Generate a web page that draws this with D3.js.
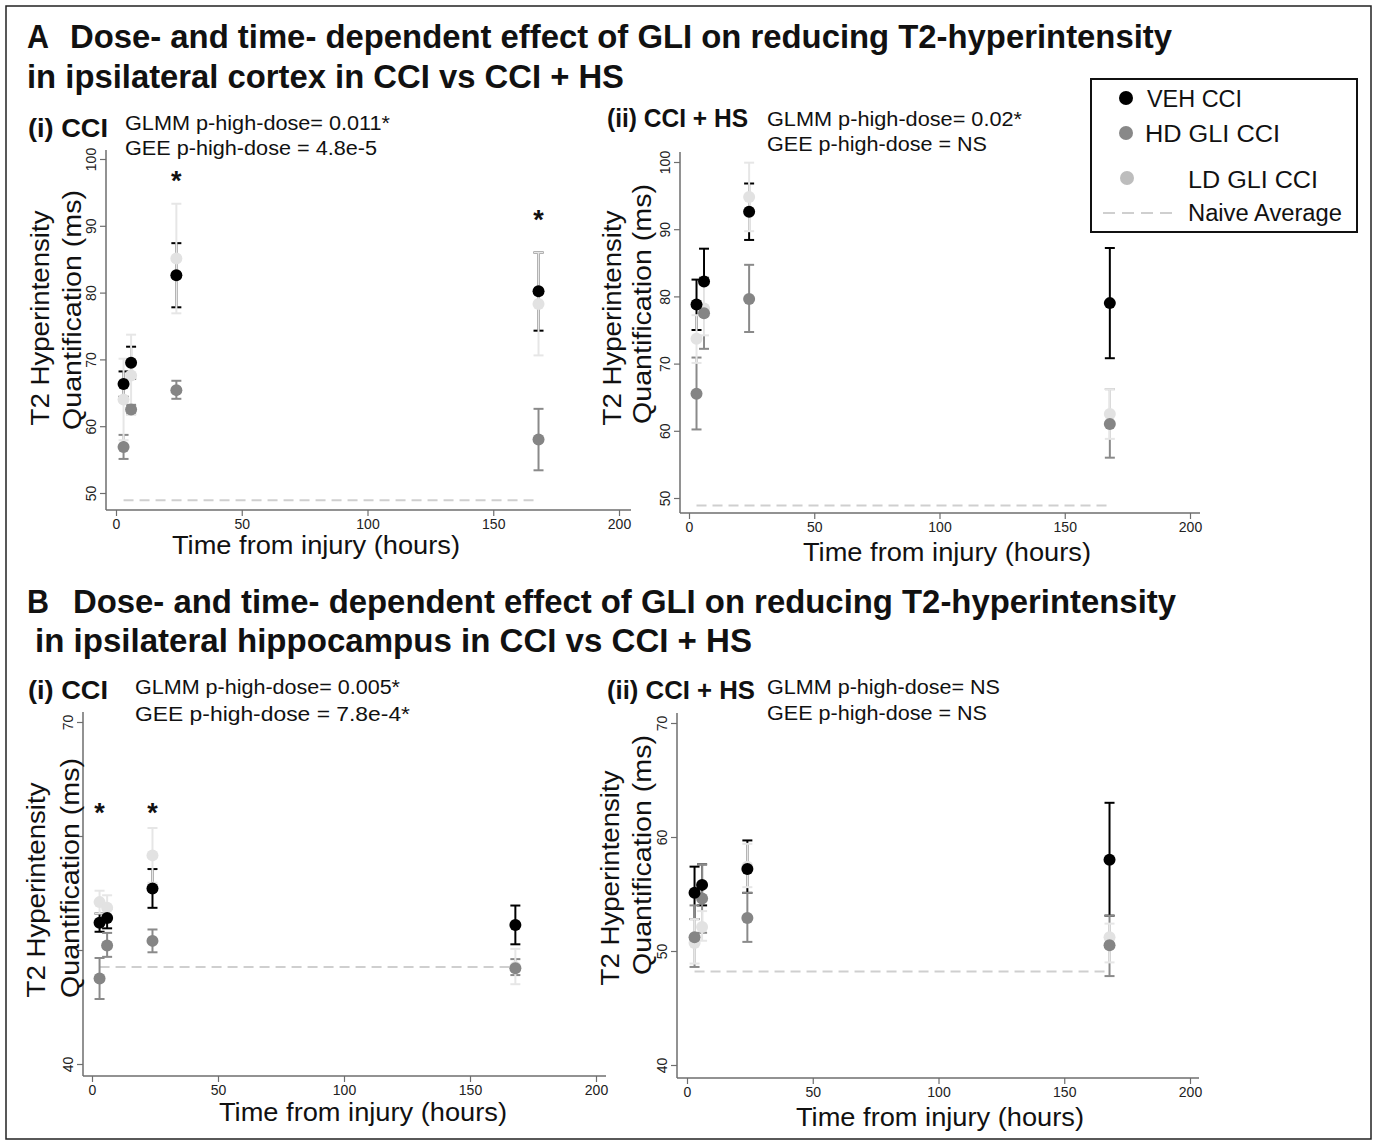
<!DOCTYPE html>
<html><head><meta charset="utf-8">
<script src="https://cdn.jsdelivr.net/npm/d3@7"></script>
<style>body{margin:0;background:#fff} svg{display:block}</style>
</head><body>
<svg id="chart" width="1377" height="1143"></svg>
<script>
// ---------------- DATA ----------------
const times = [3, 6, 24, 168];
const seriesNames = ["VEH CCI", "HD GLI CCI", "LD GLI CCI"];
const naiveLabel = "Naive Average";
const xTicks = [0, 50, 100, 150, 200];
const yTicksCortex = [50, 60, 70, 80, 90, 100];
const yTicksHippo = [40, 50, 60, 70];

// [mean, lower, upper] per time point (3, 6, 24, 168 h)
const cortexCCI_VEH = [[66.3, 64.4, 68.2], [69.5, 67.1, 71.9], [82.6, 77.8, 87.4], [80.2, 74.3, 86.0]];
const cortexCCI_HD  = [[56.9, 55.1, 58.7], [62.5, 61.8, 63.2], [65.4, 64.1, 66.8], [58.0, 53.4, 62.6]];
const cortexCCI_LD  = [[64.0, 57.9, 70.1], [67.6, 61.7, 73.7], [85.1, 76.9, 93.3], [78.3, 70.6, 86.0]];
const cortexCCI_naive = 48.9;
const cortexCCI_stars = [[24, 97.6], [168, 91.7]];

const cortexHS_VEH = [[78.8, 75.0, 82.5], [82.2, 77.3, 87.1], [92.6, 88.4, 96.8], [79.0, 70.8, 87.2]];
const cortexHS_HD  = [[65.5, 60.2, 70.9], [77.5, 72.2, 82.8], [79.6, 74.7, 84.7], [61.0, 56.0, 66.2]];
const cortexHS_LD  = [[73.7, 70.1, 77.2], [78.2, 74.2, 82.2], [94.8, 89.7, 99.9], [62.5, 58.8, 66.2]];
const cortexHS_naive = 48.9;
const cortexHS_stars = [];

const hippoCCI_VEH = [[52.4, 51.6, 53.2], [52.8, 51.9, 53.6], [55.4, 53.7, 57.1], [52.2, 50.5, 53.9]];
const hippoCCI_HD  = [[47.5, 45.7, 49.3], [50.4, 49.4, 51.5], [50.8, 49.8, 51.8], [48.4, 47.8, 49.2]];
const hippoCCI_LD  = [[54.2, 53.2, 55.2], [53.7, 52.6, 54.8], [58.3, 55.9, 60.7], [48.5, 47.0, 50.1]];
const hippoCCI_naive = 48.5;
const hippoCCI_stars = [[3, 62.5], [24, 62.5]];

const hippoHS_VEH = [[55.1, 52.8, 57.4], [55.8, 54.0, 57.6], [57.2, 55.1, 59.7], [58.0, 53.1, 63.0]];
const hippoHS_HD  = [[51.2, 48.6, 54.0], [54.6, 51.6, 57.6], [52.9, 50.8, 55.1], [50.5, 47.8, 53.1]];
const hippoHS_LD  = [[50.7, 48.9, 52.8], [52.1, 50.9, 53.5], [57.4, 55.6, 59.4], [51.2, 49.0, 52.4]];
const hippoHS_naive = 48.2;
const hippoHS_stars = [];

// ---------------- STYLE / LAYOUT ----------------
const FONT = "'Liberation Sans', Arial, Helvetica, sans-serif";
const markerColors = ["#000000", "#858585", "#e2e2e2"];
const barColors = ["#000000", "#8a8a8a", "#e6e6e6"];
const legendColors = ["#000000", "#888888", "#bdbdbd"];
const naiveColor = "#cfcfcf";

const svg = d3.select("#chart").style("font-family", FONT);

svg.append("rect").attr("x", 6).attr("y", 6).attr("width", 1365).attr("height", 1133)
  .attr("fill", "none").attr("stroke", "#222").attr("stroke-width", 1.5);

function txt(x, y, s, size, opts = {}) {
  const t = svg.append("text").attr("x", x).attr("y", y).text(s)
    .attr("font-size", size).attr("fill", opts.fill || "#111")
    .attr("font-weight", opts.bold ? "bold" : "normal");
  if (opts.len) t.attr("textLength", opts.len).attr("lengthAdjust", "spacingAndGlyphs");
  if (opts.anchor) t.attr("text-anchor", opts.anchor);
  return t;
}

// Headers
txt(27, 48, "A", 33, {bold: true, len: 22});
txt(70, 48, "Dose- and time- dependent effect of GLI on reducing T2-hyperintensity", 33, {bold: true, len: 1102});
txt(27, 88, "in ipsilateral cortex in CCI vs CCI + HS", 33, {bold: true, len: 597});
txt(27, 613, "B", 33, {bold: true, len: 22});
txt(73, 613, "Dose- and time- dependent effect of GLI on reducing T2-hyperintensity", 33, {bold: true, len: 1103});
txt(35, 652, "in ipsilateral hippocampus in CCI vs CCI + HS", 33, {bold: true, len: 717});

txt(28, 137, "(i) CCI", 25, {bold: true, len: 80});
txt(125, 130, "GLMM p-high-dose= 0.011*", 20, {len: 265});
txt(125, 155, "GEE p-high-dose = 4.8e-5", 20, {len: 252});
txt(607, 127, "(ii) CCI + HS", 25, {bold: true, len: 141});
txt(767, 126, "GLMM p-high-dose= 0.02*", 20, {len: 255});
txt(767, 151, "GEE p-high-dose = NS", 20, {len: 220});

txt(28, 699, "(i) CCI", 25, {bold: true, len: 80});
txt(135, 694, "GLMM p-high-dose= 0.005*", 20, {len: 265});
txt(135, 721, "GEE p-high-dose = 7.8e-4*", 20, {len: 275});
txt(607, 699, "(ii) CCI + HS", 25, {bold: true, len: 148});
txt(767, 694, "GLMM p-high-dose= NS", 20, {len: 233});
txt(767, 720, "GEE p-high-dose = NS", 20, {len: 220});

// Panels
const panels = [
  {series: [cortexCCI_VEH, cortexCCI_HD, cortexCCI_LD], naive: cortexCCI_naive, stars: cortexCCI_stars,
   yDomain: [50, 100], yTicks: yTicksCortex, hideLabels: [], xRange: [116, 619], yRange: [493, 159],
   axisX: 106, axisY: 510, axisTop: 150, axisRight: 631,
   xTitle: [316, 554], yl1: [40, 318], yl2: [72, 310]},
  {series: [cortexHS_VEH, cortexHS_HD, cortexHS_LD], naive: cortexHS_naive, stars: cortexHS_stars,
   yDomain: [50, 100], yTicks: yTicksCortex, hideLabels: [], xRange: [689, 1190], yRange: [498, 162],
   axisX: 680, axisY: 513, axisTop: 152, axisRight: 1200,
   xTitle: [947, 561], yl1: [612, 318], yl2: [642, 304]},
  {series: [hippoCCI_VEH, hippoCCI_HD, hippoCCI_LD], naive: hippoCCI_naive, stars: hippoCCI_stars,
   yDomain: [40, 70], yTicks: yTicksHippo, hideLabels: [50, 60], xRange: [92, 596], yRange: [1064, 722],
   axisX: 83, axisY: 1076, axisTop: 712, axisRight: 606,
   xTitle: [363, 1121], yl1: [36, 890], yl2: [70, 878]},
  {series: [hippoHS_VEH, hippoHS_HD, hippoHS_LD], naive: hippoHS_naive, stars: hippoHS_stars,
   yDomain: [40, 70], yTicks: yTicksHippo, hideLabels: [], xRange: [687, 1190], yRange: [1065, 723],
   axisX: 677, axisY: 1078, axisTop: 713, axisRight: 1199,
   xTitle: [940, 1126], yl1: [610, 878], yl2: [642, 855]}
];

const axisColor = "#6e6e6e";

panels.forEach(p => {
  const x = d3.scaleLinear().domain([0, 200]).range(p.xRange);
  const y = d3.scaleLinear().domain(p.yDomain).range(p.yRange);
  const g = svg.append("g");

  // axis lines
  g.append("line").attr("x1", p.axisX).attr("x2", p.axisX).attr("y1", p.axisTop).attr("y2", p.axisY)
    .attr("stroke", axisColor).attr("stroke-width", 1.5);
  g.append("line").attr("x1", p.axisX).attr("x2", p.axisRight).attr("y1", p.axisY).attr("y2", p.axisY)
    .attr("stroke", axisColor).attr("stroke-width", 1.5);

  // y axis
  const ya = g.append("g").attr("transform", `translate(${p.axisX},0)`)
    .call(d3.axisLeft(y).tickValues(p.yTicks).tickSize(6).tickSizeOuter(0)
      .tickFormat(d => p.hideLabels.includes(d) ? "" : d3.format("d")(d)));
  ya.select(".domain").remove();
  ya.selectAll(".tick line").attr("stroke", axisColor).attr("stroke-width", 1.2);
  ya.selectAll(".tick text").attr("transform", "rotate(-90)").attr("x", 0).attr("y", -10).attr("dy", 0)
    .attr("text-anchor", "middle").attr("font-size", 14).attr("font-family", FONT).attr("fill", "#222");

  // x axis
  const xa = g.append("g").attr("transform", `translate(0,${p.axisY})`)
    .call(d3.axisBottom(x).tickValues(xTicks).tickSize(6).tickSizeOuter(0));
  xa.select(".domain").remove();
  xa.selectAll(".tick line").attr("stroke", axisColor).attr("stroke-width", 1.2);
  xa.selectAll(".tick text").attr("y", 9).attr("dy", "0.71em").attr("font-size", 14)
    .attr("font-family", FONT).attr("fill", "#222");

  // axis titles
  g.append("text").attr("x", p.xTitle[0]).attr("y", p.xTitle[1]).attr("text-anchor", "middle")
    .attr("font-size", 25).attr("fill", "#111").attr("textLength", 288).attr("lengthAdjust", "spacingAndGlyphs")
    .text("Time from injury (hours)");
  g.append("text").attr("transform", `translate(${p.yl1[0]},${p.yl1[1]}) rotate(-90)`).attr("dy", "0.35em")
    .attr("text-anchor", "middle").attr("font-size", 25).attr("fill", "#111")
    .attr("textLength", 215).attr("lengthAdjust", "spacingAndGlyphs").text("T2 Hyperintensity");
  g.append("text").attr("transform", `translate(${p.yl2[0]},${p.yl2[1]}) rotate(-90)`).attr("dy", "0.35em")
    .attr("text-anchor", "middle").attr("font-size", 25).attr("fill", "#111")
    .attr("textLength", 240).attr("lengthAdjust", "spacingAndGlyphs").text("Quantification (ms)");

  // naive average
  g.append("line").attr("x1", x(times[0])).attr("x2", x(times[times.length - 1]))
    .attr("y1", y(p.naive)).attr("y2", y(p.naive))
    .attr("stroke", naiveColor).attr("stroke-width", 2).attr("stroke-dasharray", "10,6");

  // error bars: VEH, HD, then LD on top
  p.series.forEach((s, si) => {
    const eg = g.append("g").attr("stroke", barColors[si]).attr("stroke-width", 2).attr("fill", "none");
    s.forEach((v, ti) => {
      const cx = x(times[ti]);
      eg.append("line").attr("x1", cx).attr("x2", cx).attr("y1", y(v[1])).attr("y2", y(v[2]));
      eg.append("line").attr("x1", cx - 5).attr("x2", cx + 5).attr("y1", y(v[1])).attr("y2", y(v[1]));
      eg.append("line").attr("x1", cx - 5).attr("x2", cx + 5).attr("y1", y(v[2])).attr("y2", y(v[2]));
    });
  });

  // markers: LD, HD, VEH (black on top)
  [2, 1, 0].forEach(si => {
    g.append("g").selectAll("circle").data(p.series[si]).join("circle")
      .attr("cx", (d, i) => x(times[i])).attr("cy", d => y(d[0])).attr("r", 6)
      .attr("fill", markerColors[si]);
  });

  // significance stars
  g.append("g").selectAll("text").data(p.stars).join("text")
    .attr("x", d => x(d[0])).attr("y", d => y(d[1])).attr("dy", "0.55em")
    .attr("text-anchor", "middle").attr("font-size", 27).attr("font-weight", "bold").attr("fill", "#111")
    .text("*");
});

// Legend
const lg = svg.append("g");
lg.append("rect").attr("x", 1091).attr("y", 79).attr("width", 266).attr("height", 153)
  .attr("fill", "#fff").attr("stroke", "#111").attr("stroke-width", 2);
const legendItems = [
  {cx: 1126, cy: 98, tx: 1147, ty: 107, len: 95},
  {cx: 1126, cy: 133, tx: 1145, ty: 142, len: 135},
  {cx: 1127, cy: 178, tx: 1188, ty: 188, len: 130}
];
seriesNames.forEach((name, i) => {
  const it = legendItems[i];
  lg.append("circle").attr("cx", it.cx).attr("cy", it.cy).attr("r", 7).attr("fill", legendColors[i]);
  lg.append("text").attr("x", it.tx).attr("y", it.ty).attr("font-size", 23).attr("fill", "#111")
    .attr("textLength", it.len).attr("lengthAdjust", "spacingAndGlyphs").text(name);
});
lg.append("line").attr("x1", 1103).attr("x2", 1174).attr("y1", 213).attr("y2", 213)
  .attr("stroke", naiveColor).attr("stroke-width", 2).attr("stroke-dasharray", "12,7");
lg.append("text").attr("x", 1188).attr("y", 221).attr("font-size", 23).attr("fill", "#111")
  .attr("textLength", 154).attr("lengthAdjust", "spacingAndGlyphs").text(naiveLabel);
</script>
</body></html>
